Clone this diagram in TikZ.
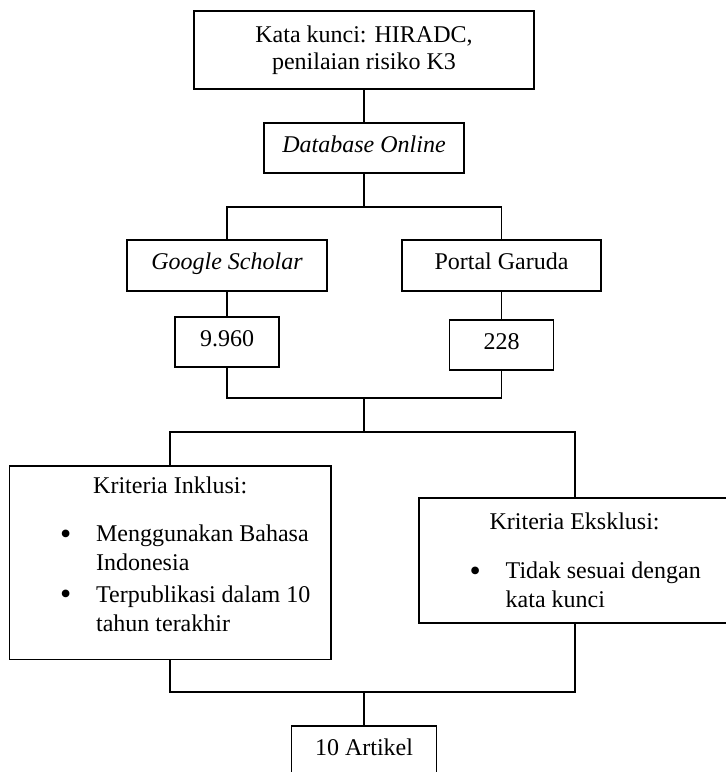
\documentclass[tikz,border=0pt]{standalone}
\usepackage{fontspec}
\setmainfont{Liberation Serif}
\usepackage{graphicx}
\newcommand{\butir}{\leavevmode\llap{\makebox[18pt][l]{\raisebox{-1.3pt}{\fontsize{16}{16}\selectfont\textbullet}}}}

\begin{document}
\begin{tikzpicture}[x=0.5pt, y=-0.5pt,
  kotak/.style={draw, line width=0.9pt, inner sep=0pt, align=center, font=\fontsize{12}{13.4}\selectfont},
  satu/.style={kotak, text height=8pt, text depth=4pt},
  kriteria/.style={draw, line width=0.9pt, inner sep=0pt, font=\fontsize{12}{14.5}\selectfont},
  garis/.style={line width=0.9pt}]
\useasboundingbox (0,0) rectangle (725,772);
% kotak-kotak
\node[kotak, minimum width=169.7pt, minimum height=39pt] (kunci) at (364,50) {Kata kunci: HIRADC,\\ penilaian risiko K3};
\node[satu, minimum width=100pt, minimum height=25pt] (db) at (364,148) {\textit{Database Online}};
\node[satu, minimum width=100pt, minimum height=25.3pt] (gs) at (227,265.3) {\textit{Google Scholar}};
\node[satu, minimum width=99.5pt, minimum height=25.3pt] (pg) at (501.5,265.3) {Portal Garuda};
\node[satu, minimum width=51.8pt, minimum height=25.3pt] (hasilgs) at (227,342) {9.960};
\node[satu, minimum width=52pt, minimum height=25pt] (hasilpg) at (501.5,345) {228};
\node[kriteria, minimum height=96.7pt] (inkl) at (170.2,562.7) {%
  \begin{minipage}{160.8pt}
  {\centering Kriteria Inklusi:\par}\vspace{9.7pt}
  \raggedright\leftskip=43.35pt
  \butir Menggunakan Bahasa\newline Indonesia\par\vspace{1.2pt}
  \butir Terpublikasi dalam 10\newline tahun terakhir\par\vspace{8.7pt}
  \end{minipage}};
\node[kriteria, minimum height=62.2pt] (eksk) at (574.6,560.5) {%
  \begin{minipage}{155.3pt}
  {\centering Kriteria Eksklusi:\par}\vspace{10pt}
  \raggedright\leftskip=43.2pt
  \butir Tidak sesuai dengan\newline kata kunci\par
  \end{minipage}};
\node[satu, minimum width=72.5pt, minimum height=25pt] (artikel) at (364,751) {10 Artikel};
% titik cabang
\coordinate (pisah1) at (364,206.7);
\coordinate (gabung1) at (364,398.3);
\coordinate (pisah2) at (364,431.7);
\coordinate (gabung2) at (364,692.3);
% garis penghubung
\draw[garis] (kunci) -- (db);
\draw[garis] (db) -- (pisah1);
\draw[garis] (gs) |- (pisah1) -| (pg);
\draw[garis] (gs) -- (hasilgs);
\draw[garis] (pg) -- (hasilpg);
\draw[garis] (hasilgs) |- (gabung1) -| (hasilpg);
\draw[garis] (gabung1) -- (pisah2);
\draw[garis] (inkl) |- (pisah2) -| (eksk);
\draw[garis] (inkl) |- (gabung2) -| (eksk);
\draw[garis] (gabung2) -- (artikel);
\end{tikzpicture}
\end{document}
